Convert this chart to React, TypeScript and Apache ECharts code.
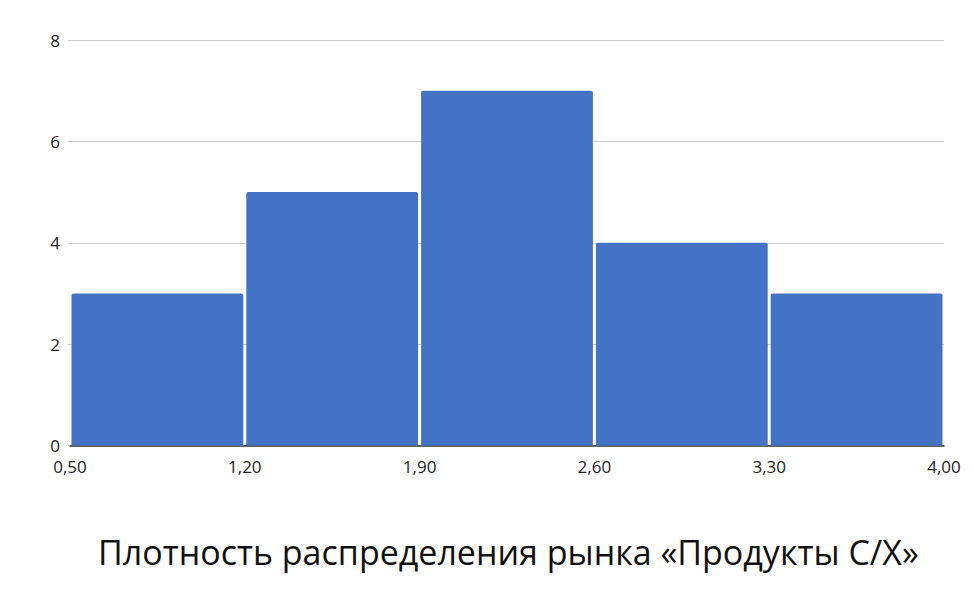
import React, { useEffect, useRef } from "react";
import * as echarts from "echarts";

const binEdges = [0.5, 1.2, 1.9, 2.6, 3.3, 4.0];
const counts = [3, 5, 7, 4, 3];
const yTicks = [0, 2, 4, 6, 8];
const titleText = "Плотность распределения рынка «Продукты С/Х»";

export default function App() {
  const ref = useRef<HTMLDivElement>(null);
  useEffect(() => {
    if (!ref.current) return;
    const chart = echarts.init(ref.current, undefined, { renderer: "svg" });
    const data = counts.map((c, i) => [binEdges[i], binEdges[i + 1], c]);
    chart.setOption({
      animation: false,
      title: {
        text: titleText,
        left: 93,
        top: 530,
        textStyle: {
          fontFamily: "Open Sans",
          fontSize: 34,
          fontWeight: "normal",
          color: "#111",
        },
      },
      grid: { left: 70, right: 30, top: 40, bottom: 157.5 },
      xAxis: {
        type: "value",
        min: binEdges[0],
        max: binEdges[binEdges.length - 1],
        interval: 0.7,
        splitLine: { show: false },
        axisTick: { show: false },
        axisLine: { show: true, lineStyle: { color: "#333", width: 1.5 } },
        axisLabel: {
          margin: 14,
          fontFamily: "Open Sans",
          fontSize: 17,
          lineHeight: 14,
          color: "#222",
          formatter: (v: number) => v.toFixed(2).replace(".", ","),
        },
      },
      yAxis: {
        type: "value",
        min: yTicks[0],
        max: yTicks[yTicks.length - 1],
        interval: 2,
        axisLine: { show: false },
        axisTick: { show: true, length: 2, lineStyle: { color: "#ccc" } },
        splitLine: { lineStyle: { color: "#ccc" } },
        axisLabel: {
          margin: 10,
          fontFamily: "Open Sans",
          fontSize: 17,
          lineHeight: 14,
          color: "#222",
        },
      },
      series: [
        {
          type: "custom",
          data,
          encode: { x: [0, 1], y: 2 },
          renderItem: (params: any, api: any) => {
            const s = api.value(0);
            const e = api.value(1);
            const v = api.value(2);
            const p0 = api.coord([s, 0]);
            const p1 = api.coord([e, v]);
            const inset = 1.5;
            return {
              type: "rect",
              shape: {
                x: p0[0] + inset,
                y: p1[1],
                width: p1[0] - p0[0] - inset * 2,
                height: p0[1] - p1[1],
                r: [2, 2, 0, 0],
              },
              style: { fill: "#4472C4" },
            };
          },
          z: 1,
        },
      ],
    });
    return () => chart.dispose();
  }, []);
  return <div ref={ref} style={{ width: 974, height: 603, position: "absolute", left: 0, top: 0 }} />;
}
